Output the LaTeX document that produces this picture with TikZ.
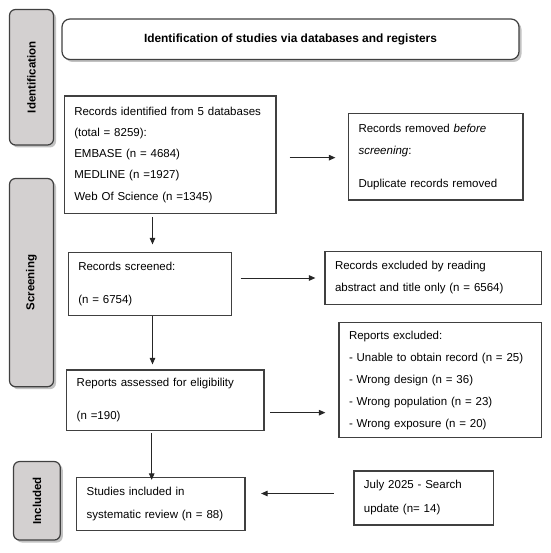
\documentclass[tikz,border=0pt]{standalone}
\usepackage{fontspec}
\setmainfont{Liberation Sans}
\usepackage{graphicx}
\usetikzlibrary{arrows.meta,shadows}
\definecolor{boxc}{HTML}{404040}
\definecolor{labfill}{HTML}{D3D0D0}
\begin{document}
\begin{tikzpicture}[x=1pt,y=-1pt,
  pbox/.style={draw=boxc, line width=1.2pt, fill=white, align=left,
    inner xsep=10pt, inner ysep=0pt, font=\fontsize{11.5}{22}\selectfont},
  labbox/.style={draw=boxc, line width=1.2pt, fill=labfill, rounded corners=6pt,
    inner sep=0pt, font=\fontsize{11.5}{14}\selectfont\bfseries,
    drop shadow={shadow xshift=2.5pt, shadow yshift=-2.5pt, fill=black!40, opacity=0.6}},
  hbox/.style={draw=boxc, line width=1.2pt, fill=white, rounded corners=8pt,
    inner sep=0pt, font=\fontsize{11.9}{14}\selectfont\bfseries,
    drop shadow={shadow xshift=2.5pt, shadow yshift=-2.5pt, fill=black!40, opacity=0.6}},
  arr/.style={draw=black!85, line width=1pt, -{Triangle[length=6.5pt,width=5.5pt]}}
]
\useasboundingbox (0,0) rectangle (550,553);

% side labels
\node[labbox, minimum width=44pt, minimum height=135.5pt] (identL) at (31.5,77.25)
  {\rotatebox{90}{Identification}};
\node[labbox, minimum width=44pt, minimum height=208.2pt] (screenL) at (31.5,282.6)
  {\rotatebox{90}{Screening}};
\node[labbox, minimum width=46.7pt, minimum height=78.5pt] (inclL) at (36.9,500.8)
  {\rotatebox{90}{Included}};

% header
\node[hbox, minimum width=457pt, minimum height=40.5pt] (header) at (290.5,39.25)
  {Identification of studies via databases and registers};

% boxes
\node[pbox, minimum width=211.7pt, text width=191.7pt, minimum height=117.3pt,
  font=\fontsize{11.5}{21.2}\selectfont] (recid) at (170.15,154.65)
  {Records identified from 5 databases\\ (total = 8259):\\ EMBASE (n = 4684)\\ MEDLINE (n =1927)\\ Web Of Science (n =1345)};
\node[pbox, minimum width=174.5pt, text width=154.5pt, minimum height=86.7pt] (recrem) at (435.75,156.65)
  {Records removed \textit{before}\\ \textit{screening}:\\[11pt] Duplicate records removed};
\node[pbox, minimum width=163.4pt, text width=143.4pt, minimum height=63.2pt] (recscr) at (150,284.1)
  {Records screened:\\[11pt] (n = 6754)};
\node[pbox, minimum width=216.7pt, text width=196.7pt, minimum height=52.6pt] (recexc) at (433.35,278)
  {Records excluded by reading\\ abstract and title only (n = 6564)};
\node[pbox, minimum width=202.7pt, text width=182.7pt, minimum height=115.2pt] (repexc) at (440.35,380.1)
  {Reports excluded:\\ - Unable to obtain record (n = 25)\\ - Wrong design (n = 36)\\ - Wrong population (n = 23)\\ - Wrong exposure (n = 20)};
\node[pbox, minimum width=197.3pt, text width=177.3pt, minimum height=60.7pt] (repass) at (165.35,400.35)
  {Reports assessed for eligibility\\[11pt] (n =190)};
\node[pbox, minimum width=168.3pt, text width=148.3pt, minimum height=53pt,
  font=\fontsize{11.5}{23.3}\selectfont] (studies) at (160.85,504)
  {Studies included in\\ systematic review (n = 88)};
\node[pbox, minimum width=139.3pt, text width=119.3pt, minimum height=54pt,
  font=\fontsize{11.5}{24}\selectfont] (july) at (423.6,498)
  {July 2025 - Search\\ update (n= 14)};

% arrows
\draw[arr, shorten <=13pt, shorten >=12.5pt]
  ([yshift=-1pt]recrem.west -| recid.east) -- ([yshift=-1pt]recrem.west);
\draw[arr, shorten <=3.4pt, shorten >=7.5pt]
  ([xshift=2.5pt]recscr.north |- recid.south) -- ([xshift=2.5pt]recscr.north);
\draw[arr, shorten <=8.3pt, shorten >=9pt]
  (recexc.west -| recscr.east) -- (recexc.west);
\draw[arr, shorten >=5pt]
  ([xshift=2.5pt]recscr.south) -- ([xshift=2.5pt]recscr.south |- repass.north);
\draw[arr, shorten <=5.5pt, shorten >=13pt]
  ([yshift=-12.3pt]repass.east) -- ([yshift=-12.3pt]repass.east -| repexc.west);
\draw[arr, shorten <=2pt, shorten >=-3pt]
  ([xshift=1.7pt]recscr.south |- repass.south) -- ([xshift=1.7pt]recscr.south |- studies.north);
\draw[arr, shorten <=19.7pt, shorten >=15.5pt]
  ([yshift=4.5pt]july.west) -- ([yshift=4.5pt]july.west -| studies.east);
\end{tikzpicture}
\end{document}
